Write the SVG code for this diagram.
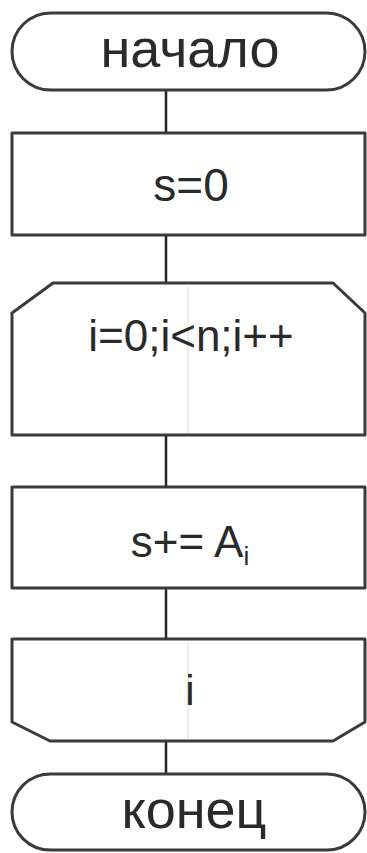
<svg xmlns="http://www.w3.org/2000/svg" width="367" height="853" viewBox="0 0 367 853">
<style>
.shape{fill:#fff;stroke:#3a3a3a;stroke-width:3;stroke-linejoin:round}
.conn{stroke:#222;stroke-width:2.5;fill:none}
.artifact{stroke:#d8d8d8;stroke-width:1}
.t{font-family:"Liberation Sans",Arial,sans-serif;fill:#2a2a2a;text-anchor:middle}
.big{font-size:54px}
.mid{font-size:42px}
</style>
<rect width="367" height="853" fill="#fff"/>
<g id="connectors">
<line class="conn" x1="166" y1="90" x2="166" y2="133"/>
<line class="conn" x1="166" y1="235" x2="166" y2="283"/>
<line class="conn" x1="166" y1="435" x2="166" y2="487"/>
<line class="conn" x1="166" y1="588" x2="166" y2="639"/>
<line class="conn" x1="166" y1="741" x2="166" y2="774"/>
</g>
<g id="start">
<rect class="shape" x="12" y="13" width="353" height="77" rx="38.5" ry="38.5"/>
<text class="t big" x="190" y="67">начало</text>
</g>
<g id="init">
<rect class="shape" x="12" y="133" width="353" height="102"/>
<text class="t" font-size="46" x="191" y="201">s=0</text>
</g>
<g id="loopStart">
<polygon class="shape" points="53,283 333,283 365,313 365,435 12,435 12,313"/>
<line class="artifact" x1="188" y1="286" x2="188" y2="433"/>
<text class="t" font-size="44" x="191" y="351">i=0;i&lt;n;i++</text>
</g>
<g id="body">
<rect class="shape" x="12" y="487" width="353" height="101"/>
<text class="t" font-size="44" x="190" y="557">s+= A<tspan font-size="26" dy="8">i</tspan></text>
</g>
<g id="loopEnd">
<polygon class="shape" points="12,639 365,639 365,722 333,741 50,741 12,722"/>
<line class="artifact" x1="188" y1="642" x2="188" y2="739"/>
<text class="t mid" x="190" y="705">i</text>
</g>
<g id="end">
<rect class="shape" x="12" y="774" width="353" height="76" rx="38" ry="38"/>
<text class="t big" x="194" y="828">конец</text>
</g>
</svg>
